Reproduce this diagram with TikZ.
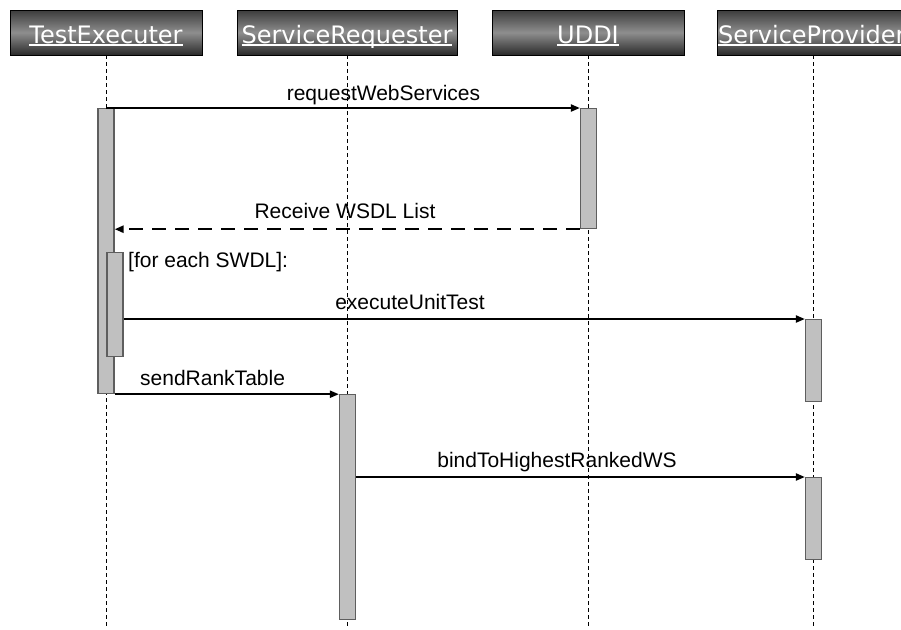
\documentclass[tikz,border=0pt]{standalone}
\usepackage{fontspec}
\setmainfont{Liberation Sans}
\newfontfamily\headfont{DejaVu Sans}
\usetikzlibrary{arrows.meta}

\definecolor{headtop}{HTML}{3C3C3C}
\definecolor{headmid}{HTML}{8E8E8E}
\definecolor{headbot}{HTML}{2A2A2A}
\definecolor{actfill}{HTML}{C0C0C0}
\definecolor{actline}{HTML}{5E5E5E}

% white underline drawn below the participant names
\newcommand\headul[1]{\setbox0\hbox{#1}\rlap{\rule[-2.6pt]{\wd0}{1.3pt}}\box0}

\begin{document}
\begin{tikzpicture}[x=1pt,y=-1pt,
  head/.style={draw=black, line width=0.9pt,
    top color=headtop, bottom color=headbot, middle color=headmid,
    minimum width=192pt, minimum height=45pt, inner sep=0pt,
    text height=21pt, text depth=0pt,
    font=\headfont\fontsize{24}{24}\selectfont, text=white},
  life/.style={line width=0.9pt, dash pattern=on 4pt off 3pt},
  act/.style={draw=actline, fill=actfill, line width=1.2pt,
    minimum width=16pt, inner sep=0pt, anchor=north},
  msg/.style={line width=2pt, -{Triangle[length=9pt,width=7pt]}},
  reply/.style={msg, line width=2.4pt, dash pattern=on 14pt off 9pt},
  lbl/.style={font=\fontsize{21}{21}\selectfont, inner sep=0pt, anchor=base}
]
\path[use as bounding box, fill=white] (0,0) rectangle (901,629);
\coordinate (floor) at (0,629);

% participants
\node[head] (te) at (106,32.5) {\headul{TestExecuter}};
\node[head, minimum width=220pt] (sr) at (347,32.5) {\headul{ServiceRequester}};
\node[head] (uddi) at (588,32.5) {\headul{UDDI}};
\node[head] (sp) at (813,32.5) {\makebox[190pt][l]{\headul{ServiceProvider}}};

% lifelines
\foreach \p in {te,sr,uddi,sp}
  \draw[life] (\p.south) -- (\p.south |- floor);

% activation bars
\node[act, minimum height=285pt] (teAct) at (106,108) {};
\node[act, minimum height=104pt] (teLoop) at (115,252) {};
\node[act, minimum height=120pt] (uddiAct) at (588.5,108) {};
\node[act, minimum height=82pt] (spAct1) at (813.5,319) {};
\node[act, minimum height=225pt] (srAct) at (347.5,394) {};
\node[act, minimum height=82pt] (spAct2) at (813.5,477) {};

% messages
\draw[msg] (teAct.north) -- (uddiAct.north west);
\draw[reply] (uddiAct.south west) -- (teAct.east |- uddiAct.south west);
\draw[msg] (teLoop.east |- spAct1.north west) -- (spAct1.north west);
\draw[msg] (teAct.south east) -- (teAct.south east -| srAct.west);
\draw[msg] (srAct.east |- spAct2.north west) -- (spAct2.north west);

% message labels
\node[lbl] (l1) at (383.5,100) {requestWebServices};
\node[lbl] (l2) at (345,218) {Receive WSDL List};
\node[lbl, anchor=base west] (l3) at (128,267) {[for each SWDL]:};
\node[lbl] (l4) at (410,309) {executeUnitTest};
\node[lbl, anchor=base west] (l5) at (140,385) {sendRankTable};
\node[lbl] (l6) at (557,467) {bindToHighestRankedWS};
\end{tikzpicture}
\end{document}
